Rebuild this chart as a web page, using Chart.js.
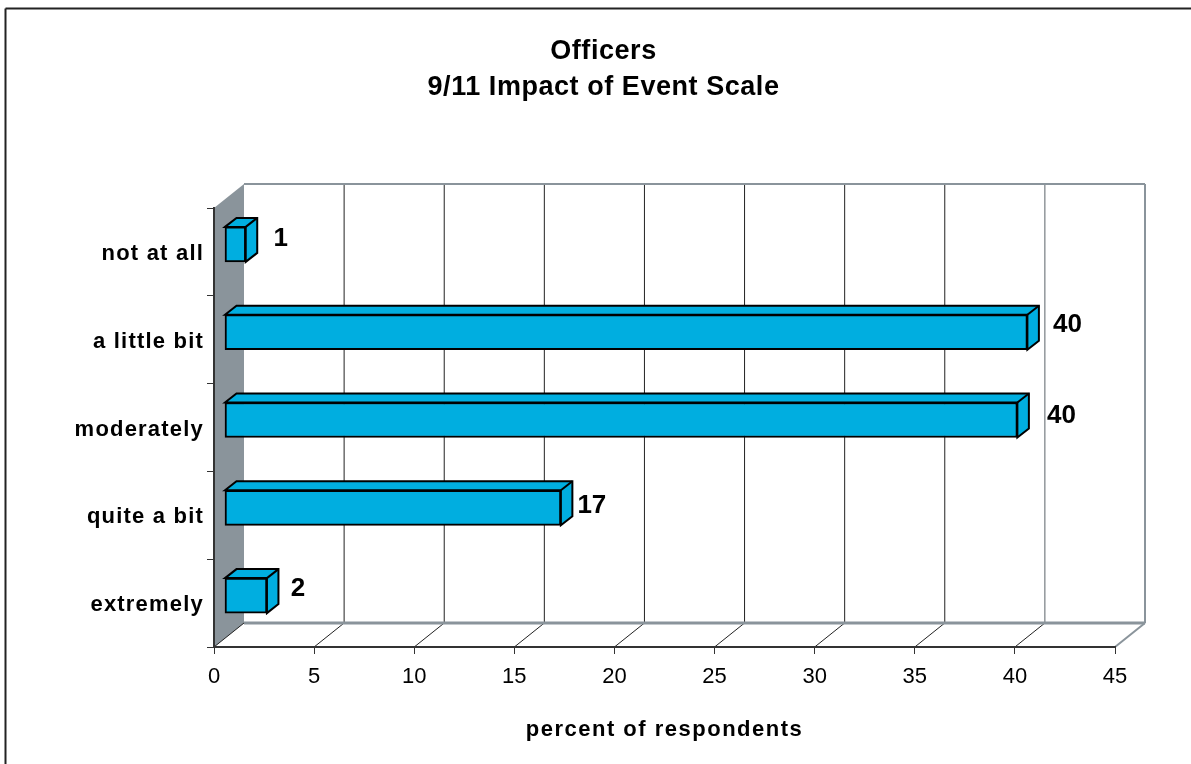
<!DOCTYPE html>
<html>
<head>
<meta charset="utf-8">
<style>
  html, body { margin: 0; padding: 0; background: #fff; }
  #wrap { width: 1191px; height: 764px; }
</style>
<script src="https://cdn.jsdelivr.net/npm/chart.js@4/dist/chart.umd.min.js"></script>
</head>
<body>
<div id="wrap"><canvas id="chart" width="1191" height="764"></canvas></div>
<script>
var categories = ["not at all", "a little bit", "moderately", "quite a bit", "extremely"];
var percentValues = [1.06, 40.1, 39.6, 16.8, 2.12];
var xTicks = [0, 5, 10, 15, 20, 25, 30, 35, 40, 45];

var WALL_GREY = "#8a949b";
var BAR_BLUE = "#00aee0";
var FONT = "'Liberation Sans', Arial, sans-serif";

// depth of the fake 3D box around the plot, and of each bar
var wallDepth = { x: 30, y: -24 };
var barDepth = { x: 11.5, y: -9 };
var barShift = { x: 10.5, y: -7.5 };

function line(ctx, x1, y1, x2, y2, color, width) {
    ctx.strokeStyle = color;
    ctx.lineWidth = width;
    ctx.beginPath();
    ctx.moveTo(x1, y1);
    ctx.lineTo(x2, y2);
    ctx.stroke();
}

// Chart.js has no letter spacing option, so wrap the draw call
function withSpacing(ctx, target, method, spacing) {
    var original = target[method];
    target[method] = function (arg) {
        ctx.save();
        ctx.letterSpacing = spacing;
        original.call(this, arg);
        ctx.restore();
    };
}

var spacingPlugin = {
    id: "spacing",
    afterLayout: function (chart) {
        if (chart.$spaced) return;
        chart.$spaced = true;
        withSpacing(chart.ctx, chart.scales.y, "drawLabels", "1.2px");
        withSpacing(chart.ctx, chart.scales.x, "drawTitle", "1.5px");
        withSpacing(chart.ctx, chart.titleBlock, "draw", "0.55px");
        // the title is centred a bit right of the page centre in the original
        chart.titleBlock.left += 32;
    }
};

// white page, frame, left wall, back wall and floor lines
var wallsPlugin = {
    id: "walls",
    beforeDraw: function (chart) {
        var ctx = chart.ctx;
        var area = chart.chartArea;
        var xScale = chart.scales.x;
        var dx = wallDepth.x, dy = wallDepth.y;

        ctx.save();
        ctx.fillStyle = "#fff";
        ctx.fillRect(0, 0, chart.width, chart.height);

        line(ctx, 5.5, 8.5, chart.width, 8.5, "#222", 2);
        line(ctx, 5.5, 8.5, 5.5, chart.height, "#222", 2);

        ctx.fillStyle = WALL_GREY;
        ctx.beginPath();
        ctx.moveTo(area.left, area.top);
        ctx.lineTo(area.left + dx, area.top + dy);
        ctx.lineTo(area.left + dx, area.bottom + dy);
        ctx.lineTo(area.left, area.bottom);
        ctx.closePath();
        ctx.fill();

        xTicks.forEach(function (t) {
            var x = xScale.getPixelForValue(t);
            if (t > 0 && t < 45) {
                line(ctx, x + dx, area.top + dy, x + dx, area.bottom + dy, t === 40 ? "#5a6268" : "#222", 1);
            }
            if (t < 45) {
                line(ctx, x, area.bottom, x + dx, area.bottom + dy, "#222", 1);
            }
        });

        line(ctx, area.left + dx, area.top + dy, area.right + dx, area.top + dy, WALL_GREY, 2);
        line(ctx, area.right + dx, area.top + dy, area.right + dx, area.bottom + dy, WALL_GREY, 2);
        line(ctx, area.left + dx, area.bottom + dy, area.right + dx, area.bottom + dy, WALL_GREY, 3);
        line(ctx, area.right, area.bottom, area.right + dx, area.bottom + dy, WALL_GREY, 2);
        ctx.restore();
    }
};

// the bars are pushed back into the box; top and side faces are added around them
var barBoxPlugin = {
    id: "barBox",
    beforeDatasetDraw: function (chart) {
        var ctx = chart.ctx;
        ctx.save();
        ctx.translate(barShift.x, barShift.y);
        ctx.fillStyle = BAR_BLUE;
        ctx.strokeStyle = "#000";
        ctx.lineWidth = 2;
        ctx.lineJoin = "miter";
        chart.getDatasetMeta(0).data.forEach(function (bar) {
            var left = bar.base, right = bar.x;
            var top = bar.y - bar.height / 2, bottom = bar.y + bar.height / 2;
            var dx = barDepth.x, dy = barDepth.y;
            ctx.beginPath();
            ctx.moveTo(left, top);
            ctx.lineTo(left + dx, top + dy);
            ctx.lineTo(right + dx, top + dy);
            ctx.lineTo(right + dx, bottom + dy);
            ctx.lineTo(right, bottom);
            ctx.lineTo(right, top);
            ctx.closePath();
            ctx.fill();
            ctx.stroke();
        });
    },
    afterDatasetDraw: function (chart) {
        var ctx = chart.ctx;
        chart.getDatasetMeta(0).data.forEach(function (bar) {
            var top = bar.y - bar.height / 2;
            line(ctx, bar.x, top, bar.x + barDepth.x, top + barDepth.y, "#000", 2);
        });
        ctx.restore();
    }
};

// value labels sit by hand-placed spots in the original, hence the nudges
var labelNudge = [[35, -5.5], [40, -7], [44, -4], [31, -1.5], [31, -7]];
var valueLabelPlugin = {
    id: "valueLabels",
    afterDatasetsDraw: function (chart) {
        var ctx = chart.ctx;
        ctx.save();
        ctx.font = "bold 26px " + FONT;
        ctx.fillStyle = "#000";
        ctx.textAlign = "center";
        ctx.textBaseline = "middle";
        chart.getDatasetMeta(0).data.forEach(function (bar, i) {
            ctx.fillText(Math.round(percentValues[i]), bar.x + barShift.x + labelNudge[i][0], bar.y + barShift.y + labelNudge[i][1]);
        });
        ctx.restore();
    }
};

new Chart(document.getElementById("chart"), {
    type: "bar",
    data: {
        labels: categories,
        datasets: [{
            data: percentValues,
            backgroundColor: BAR_BLUE,
            borderColor: "#000",
            borderWidth: 2,
            borderSkipped: false,
            barThickness: 35,
            clip: false
        }]
    },
    plugins: [spacingPlugin, wallsPlugin, barBoxPlugin, valueLabelPlugin],
    options: {
        indexAxis: "y",
        responsive: false,
        animation: false,
        layout: { padding: { left: 60, right: 76, top: 0, bottom: 0 } },
        plugins: {
            legend: { display: false },
            tooltip: { enabled: false },
            title: {
                display: true,
                text: ["Officers", "9/11 Impact of Event Scale"],
                color: "#000",
                font: { family: FONT, size: 27, weight: "bold", lineHeight: "36.5px" },
                padding: { top: 33, bottom: 102 }
            }
        },
        scales: {
            x: {
                type: "linear",
                min: 0,
                max: 45,
                afterBuildTicks: function (scale) {
                    scale.ticks = xTicks.map(function (v) { return { value: v }; });
                },
                afterFit: function (scale) { scale.height = 117; },
                grid: { drawOnChartArea: false, color: "#333", tickLength: 7, lineWidth: 1 },
                border: { color: "#333", width: 2 },
                ticks: { color: "#000", padding: 10, maxRotation: 0, font: { family: FONT, size: 22 } },
                title: {
                    display: true,
                    text: "percent of respondents",
                    color: "#000",
                    font: { family: FONT, size: 22, weight: "bold" },
                    padding: { top: 0, bottom: 21 }
                }
            },
            y: {
                afterFit: function (scale) { scale.width = 154; },
                grid: { drawOnChartArea: false, color: "#333", tickLength: 7, lineWidth: 1 },
                border: { color: "#333", width: 2 },
                ticks: { color: "#000", padding: 3, labelOffset: 2, autoSkip: false, font: { family: FONT, size: 22, weight: "bold" } }
            }
        }
    }
});
</script>
</body>
</html>
